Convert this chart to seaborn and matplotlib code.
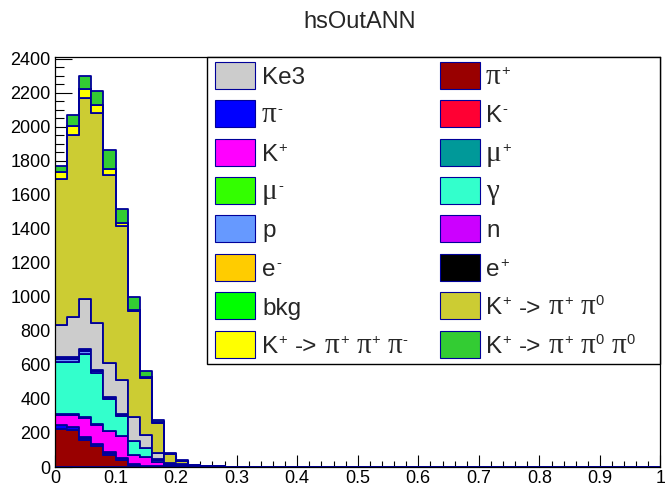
import numpy as np
import pandas as pd
import matplotlib
matplotlib.use("Agg")
import matplotlib.pyplot as plt
from matplotlib.patches import Rectangle
from matplotlib.ticker import MultipleLocator, FormatStrFormatter
import seaborn as sns

# ---- data: entries per bin of the ANN output (bins of 0.02, first 14 bins; the rest are empty)
n_bins = 50
pi_plus   = [226, 215, 158, 121, 72, 41, 12, 5, 2, 0, 0, 0, 0, 0]
pi_minus  = [20, 18, 15, 14, 13, 9, 6, 3, 2, 3, 1, 0, 0, 0]
k_minus   = [2, 2, 1, 1, 1, 1, 0, 0, 0, 0, 0, 0, 0, 0]
k_plus    = [60, 68, 113, 113, 123, 129, 54, 50, 27, 7, 4, 2, 1, 1]
mu_plus   = [4, 4, 3, 3, 2, 2, 1, 0, 0, 0, 0, 0, 0, 0]
mu_minus  = [2, 2, 2, 1, 1, 1, 0, 0, 0, 0, 0, 0, 0, 0]
gamma     = [301, 306, 375, 301, 188, 118, 77, 51, 9, 5, 3, 1, 1, 0]
proton    = [22, 22, 16, 12, 6, 5, 3, 2, 3, 3, 1, 1, 0, 0]
neutron   = [5, 5, 4, 3, 2, 1, 1, 1, 1, 1, 1, 0, 0, 0]
e_minus   = [3, 3, 2, 2, 1, 1, 1, 0, 1, 1, 0, 0, 0, 0]
e_plus    = [1, 1, 1, 0, 0, 0, 0, 0, 0, 0, 0, 0, 0, 0]
bkg       = [2, 2, 2, 2, 1, 1, 0, 0, 0, 0, 0, 0, 0, 0]
ke3       = [187, 234, 296, 275, 201, 200, 140, 75, 35, 5, 5, 2, 1, 1]
k2pi      = [857, 1068, 1180, 1230, 1108, 908, 620, 338, 179, 50, 22, 5, 2, 1]
k3pi      = [41, 56, 53, 47, 30, 16, 10, 5, 3, 1, 1, 0, 0, 0]
kpi2pi0   = [35, 61, 76, 87, 113, 82, 72, 34, 13, 4, 3, 1, 0, 0]

# legend labels as (text, kind) pieces: 'r' roman, 'g' greek, 's' superscript, ' ' space
labels = {
    "Ke3": [("Ke3", "r")],
    "pi+": [("π", "g"), ("+", "s")],
    "pi-": [("π", "g"), ("-", "s")],
    "K-": [("K", "r"), ("-", "s")],
    "K+": [("K", "r"), ("+", "s")],
    "mu+": [("μ", "g"), ("+", "s")],
    "mu-": [("μ", "g"), ("-", "s")],
    "gamma": [("γ", "g")],
    "p": [("p", "r")],
    "n": [("n", "r")],
    "e-": [("e", "r"), ("-", "s")],
    "e+": [("e", "r"), ("+", "s")],
    "bkg": [("bkg", "r")],
    "K2pi": [("K", "r"), ("+", "s"), (" ", " "), ("->", "r"), (" ", " "),
             ("π", "g"), ("+", "s"), (" ", " "), ("π", "g"), ("0", "s")],
    "K3pi": [("K", "r"), ("+", "s"), (" ", " "), ("->", "r"), (" ", " "),
             ("π", "g"), ("+", "s"), (" ", " "), ("π", "g"), ("+", "s"),
             (" ", " "), ("π", "g"), ("-", "s")],
    "Kpi2pi0": [("K", "r"), ("+", "s"), (" ", " "), ("->", "r"), (" ", " "),
                ("π", "g"), ("+", "s"), (" ", " "), ("π", "g"), ("0", "s"),
                (" ", " "), ("π", "g"), ("0", "s")],
}
colors = {
    "Ke3": "#cccccc", "pi+": "#990000", "pi-": "#0000ff", "K-": "#ff0033",
    "K+": "#ff00ff", "mu+": "#009999", "mu-": "#33ff00", "gamma": "#33ffcc",
    "p": "#6699ff", "n": "#cc00ff", "e-": "#ffcc00", "e+": "#000000",
    "bkg": "#00ff00", "K2pi": "#cccc33", "K3pi": "#ffff00", "Kpi2pi0": "#33cc33",
}
# stacking order, bottom to top
stack = [
    ("pi+", pi_plus), ("pi-", pi_minus), ("K-", k_minus), ("K+", k_plus),
    ("mu+", mu_plus), ("mu-", mu_minus), ("gamma", gamma), ("p", proton),
    ("n", neutron), ("e-", e_minus), ("e+", e_plus), ("bkg", bkg),
    ("Ke3", ke3), ("K2pi", k2pi), ("K3pi", k3pi), ("Kpi2pi0", kpi2pi0),
]
legend_order = ["Ke3", "pi+", "pi-", "K-", "K+", "mu+", "mu-", "gamma",
                "p", "n", "e-", "e+", "bkg", "K2pi", "K3pi", "Kpi2pi0"]

bin_width = 1.0 / n_bins
centers = (np.arange(n_bins) + 0.5) * bin_width
rows = []
for name, vals in stack:
    full = list(vals) + [0] * (n_bins - len(vals))
    for c, v in zip(centers, full):
        rows.append({"x": c, "n": v, "comp": name})
df = pd.DataFrame(rows)

# ---- style
sns.set_style("white")
plt.rcParams["font.family"] = ["Liberation Sans", "DejaVu Sans"]

W, H = 665, 491
fig = plt.figure(figsize=(W / 100, H / 100), dpi=100)
fig.patch.set_facecolor("white")


def fx(px):
    return px / W


def fy(py):
    return 1 - py / H


ax = fig.add_axes([fx(55), fy(467), fx(660.5) - fx(55), fy(57) - fy(467)])

# seaborn stacks the first hue level on top, so pass the order top-to-bottom
hue_order = [name for name, _ in stack][::-1]
sns.histplot(data=df, x="x", weights="n", hue="comp", hue_order=hue_order,
             palette=colors, multiple="stack", element="step",
             binwidth=bin_width, binrange=(0, 1), alpha=1,
             edgecolor="#000099", linewidth=1.3, legend=False, ax=ax)

ax.set_xlim(0, 1)
ax.set_ylim(0, 2410)
ax.set_xlabel("")
ax.set_ylabel("")

ax.xaxis.set_major_locator(MultipleLocator(0.1))
ax.xaxis.set_minor_locator(MultipleLocator(0.02))
ax.yaxis.set_major_locator(MultipleLocator(200))
ax.yaxis.set_minor_locator(MultipleLocator(50))
ax.xaxis.set_major_formatter(FormatStrFormatter("%g"))
ax.yaxis.set_major_formatter(FormatStrFormatter("%g"))

ax.tick_params(axis="both", which="both", direction="in", colors="black",
               labelsize=13, bottom=True, left=True, top=False, right=False)
ax.tick_params(axis="x", which="major", length=8.6, width=0.8, pad=2)
ax.tick_params(axis="x", which="minor", length=4.3, width=0.8)
ax.tick_params(axis="y", which="major", length=12.2, width=0.8, pad=3)
ax.tick_params(axis="y", which="minor", length=6.3, width=0.8)
for s in ax.spines.values():
    s.set_visible(True)
    s.set_color("black")
    s.set_linewidth(0.9)

# ---- title
fig.text(fx(360), fy(22), "hsOutANN", ha="center", va="center", fontsize=17)

# ---- legend box
fig.patches.append(Rectangle((fx(207), fy(364)), fx(660) - fx(207), fy(57) - fy(364),
                             transform=fig.transFigure, facecolor="white",
                             edgecolor="black", linewidth=1.0, zorder=5))

renderer = fig.canvas.get_renderer()
LEG_PT = 17.5
LEG_PX = LEG_PT * 100 / 72


def draw_label(x0, baseline, pieces):
    x = x0
    for txt, kind in pieces:
        if kind == " ":
            x += 0.31 * LEG_PX
            continue
        if kind == "s":
            t = fig.text(fx(x + 0.5), fy(baseline - 0.38 * LEG_PX), txt,
                         fontsize=LEG_PT * 0.6, va="baseline", ha="left", zorder=7)
        elif kind == "g":
            t = fig.text(fx(x), fy(baseline), txt, fontsize=LEG_PT * 1.2,
                         va="baseline", ha="left",
                         family=["Liberation Serif", "DejaVu Serif"], zorder=7)
        else:
            t = fig.text(fx(x), fy(baseline), txt, fontsize=LEG_PT, va="baseline",
                         ha="left", zorder=7)
        x += t.get_window_extent(renderer).width + (0.5 if kind == "s" else 0)


row_y = [75, 113.5, 152, 190, 228.5, 267, 305.5, 344]
col_sw = [215, 440]
col_tx = [262, 486]
for i, name in enumerate(legend_order):
    r, c = divmod(i, 2)
    yc = row_y[r]
    fig.patches.append(Rectangle((fx(col_sw[c]), fy(yc + 13.5)), fx(40), 27 / H,
                                 transform=fig.transFigure,
                                 facecolor=colors[name], edgecolor="#000099",
                                 linewidth=0.8, zorder=6))
    draw_label(col_tx[c], yc + 9, labels[name])

fig.savefig("out.png", dpi=100)
